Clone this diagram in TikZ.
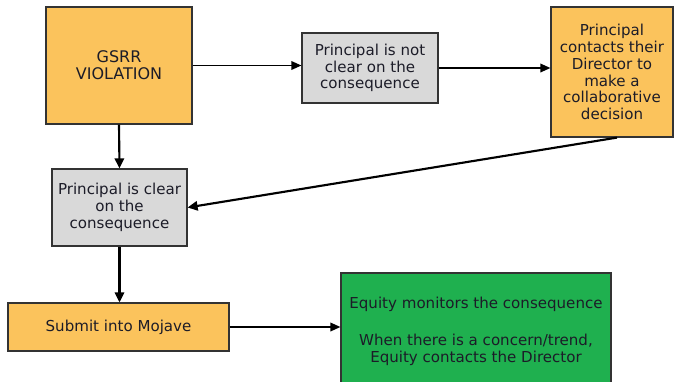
\documentclass[tikz,border=0pt]{standalone}
\usepackage{fontspec}
\setmainfont{DejaVu Sans}
\usetikzlibrary{arrows.meta}
\definecolor{boxorange}{HTML}{FBC35C}
\definecolor{boxgray}{HTML}{D9D9D9}
\definecolor{boxgreen}{HTML}{1FB04F}
\definecolor{boxtext}{HTML}{1C1C28}

\begin{document}
\begin{tikzpicture}[x=0.75pt, y=-0.75pt, font=\fontsize{11.3}{12.6}\selectfont,
   box/.style={draw=black!80, line width=0.9pt, align=center, inner sep=0pt, text=boxtext},
   orangebox/.style={box, fill=boxorange},
   graybox/.style={box, fill=boxgray},
   greenbox/.style={box, fill=boxgreen},
   thinarrow/.style={-{Triangle[length=7.5pt, width=6.5pt]}, line width=1pt},
   thickarrow/.style={-{Triangle[length=7.5pt, width=7pt]}, line width=1.6pt}]
   \path[use as bounding box, clip] (0,0) rectangle (675,382);

   \node[orangebox, minimum width=109.5pt, minimum height=87.75pt, font=\fontsize{12}{12.6}\selectfont] (gsrr) at (119,65.5) {GSRR\\VIOLATION};
   \node[graybox, minimum width=102pt, minimum height=52.5pt] (notclear) at (370,68) {Principal is not\\clear on the\\consequence};
   \node[orangebox, minimum width=91.5pt, minimum height=97.5pt] (contacts) at (612,72) {Principal\\contacts their\\Director to\\make a\\collaborative\\decision};
   \node[graybox, minimum width=101.25pt, minimum height=57.75pt] (clear) at (119.5,207.5) {Principal is clear\\on the\\consequence};
   \node[orangebox, minimum width=165.75pt, minimum height=36pt] (submit) at (118.5,327) {Submit into Mojave};
   \node[greenbox, minimum width=202.5pt, minimum height=97.5pt] (equity) at (476,338) {};
   \node[align=center, text=boxtext] (equitytext) at (476,331.5) {Equity monitors the consequence\\[15.5pt]When there is a concern/trend,\\Equity contacts the Director};

   \draw[thinarrow] (gsrr.east) -- (gsrr.east -| notclear.west);
   \draw[thinarrow] (notclear.east) -- (notclear.east -| contacts.west);
   \draw[thickarrow] ([xshift=3.75pt]contacts.south) -- (clear.east);
   \draw[thickarrow] (gsrr.south) -- (clear.north);
   \draw[thickarrow] (clear.south) -- (clear.south |- submit.north);
   \draw[thinarrow] (submit.east) -- (submit.east -| equity.west);
\end{tikzpicture}
\end{document}
